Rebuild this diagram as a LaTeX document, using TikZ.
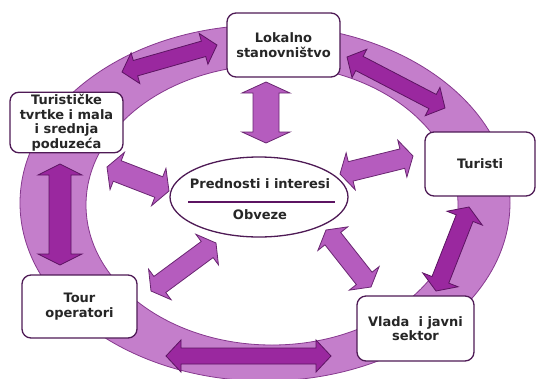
\documentclass[tikz,border=0pt]{standalone}
\usepackage{fontspec}
\setmainfont{DejaVu Sans}
\usetikzlibrary{calc,shapes.geometric}
\definecolor{ringfill}{HTML}{C47ECB}
\definecolor{ringedge}{HTML}{86398E}
\definecolor{rarrfill}{HTML}{9A289F}
\definecolor{rarredge}{HTML}{5C1462}
\definecolor{iarrfill}{HTML}{B55CBE}
\definecolor{iarredge}{HTML}{6A2672}
\definecolor{boxedge}{HTML}{4E1A55}
\definecolor{txt}{HTML}{262626}
\newcommand{\blockarr}[6][]{%
  \draw[#1] (#2)
   -- ($(#2)!#6!(#3)!#5!90:(#3)$)
   -- ($(#2)!#6!(#3)!#4!90:(#3)$)
   -- ($(#3)!#6!(#2)!#4!-90:(#2)$)
   -- ($(#3)!#6!(#2)!#5!-90:(#2)$)
   -- (#3)
   -- ($(#3)!#6!(#2)!#5!90:(#2)$)
   -- ($(#3)!#6!(#2)!#4!90:(#2)$)
   -- ($(#2)!#6!(#3)!#4!-90:(#3)$)
   -- ($(#2)!#6!(#3)!#5!-90:(#3)$)
   -- cycle;}
\tikzset{
  box/.style={draw=boxedge, line width=1.3pt, fill=white, rounded corners=9pt,
    align=center, inner sep=2pt, text=txt,
    font=\fontsize{13}{14.5}\selectfont\bfseries},
  ringarr/.style={fill=rarrfill, draw=rarredge, line width=0.8pt, line join=miter},
  innerarr/.style={fill=iarrfill, draw=iarredge, line width=0.8pt, line join=miter},
  lbl/.style={text=txt, font=\fontsize{13}{14.5}\selectfont\bfseries, inner sep=0pt}
}
\begin{document}
\begin{tikzpicture}[x=1pt,y=-1pt]
\useasboundingbox (0,0) rectangle (537,378);
% ring
\fill[ringfill, even odd rule]
  (265,203) ellipse [x radius=245pt, y radius=178pt]
  (272,205) ellipse [x radius=186pt, y radius=140pt];
\draw[ringedge, line width=0.8pt] (265,203) ellipse [x radius=245pt, y radius=178pt];
\draw[ringedge, line width=0.8pt] (272,205) ellipse [x radius=186pt, y radius=140pt];

% ring arrows
\coordinate (r1a) at (122,72);  \coordinate (r1b) at (217,45);
\coordinate (r2a) at (347,57);  \coordinate (r2b) at (445,108);
\coordinate (r3a) at (469,207); \coordinate (r3b) at (436,291);
\coordinate (r4a) at (166,356); \coordinate (r4b) at (331,356);
\coordinate (r5a) at (60,164);  \coordinate (r5b) at (60,265);
\blockarr[ringarr]{r1a}{r1b}{8pt}{16pt}{14pt}
\blockarr[ringarr]{r2a}{r2b}{8pt}{16pt}{14pt}
\blockarr[ringarr]{r3a}{r3b}{9pt}{19pt}{12pt}
\blockarr[ringarr]{r4a}{r4b}{8pt}{16pt}{15pt}
\blockarr[ringarr]{r5a}{r5b}{11pt}{22pt}{11pt}

% inner arrows
\coordinate (i1a) at (266,82);  \coordinate (i1b) at (266,143);
\coordinate (i2a) at (107,167); \coordinate (i2b) at (169,191);
\coordinate (i3a) at (340,174); \coordinate (i3b) at (413,156);
\coordinate (i4a) at (151,291); \coordinate (i4b) at (216,243);
\coordinate (i5a) at (326,230); \coordinate (i5b) at (371,287);
\blockarr[innerarr]{i1a}{i1b}{13pt}{24pt}{11pt}
\blockarr[innerarr]{i2a}{i2b}{11pt}{20pt}{11pt}
\blockarr[innerarr]{i3a}{i3b}{10pt}{19pt}{11pt}
\blockarr[innerarr]{i4a}{i4b}{10pt}{19pt}{11pt}
\blockarr[innerarr]{i5a}{i5b}{10pt}{19pt}{11pt}

% boxes
\node[box, minimum width=113pt, minimum height=64pt] (lok) at (283.5,45) {Lokalno\\stanovništvo};
\node[box, minimum width=113pt, minimum height=59pt] (tur) at (66.5,122.5) {Turističke\\tvrtke i mala\\i srednja\\poduzeća};
\node[box, minimum width=110pt, minimum height=64pt] (turisti) at (480,164) {Turisti};
\node[box, minimum width=115pt, minimum height=63pt] (tour) at (79.5,306.5) {Tour\\operatori};
\node[box, minimum width=117pt, minimum height=65pt] (vlada) at (415.5,328.5) {Vlada \ i javni\\sektor};

% centre
\node[ellipse, draw=boxedge, line width=1.3pt, fill=white, minimum width=178pt, minimum height=80pt, inner sep=0pt] (ctr) at (259,197) {};
\node[lbl] (pred) at (260,184) {Prednosti i interesi};
\node[lbl] (obv) at (260,215) {Obveze};
\coordinate (ll) at (188,202); \coordinate (lr) at (335,202);
\draw[rarredge, line width=1.6pt] (ll) -- (lr);
\end{tikzpicture}
\end{document}
